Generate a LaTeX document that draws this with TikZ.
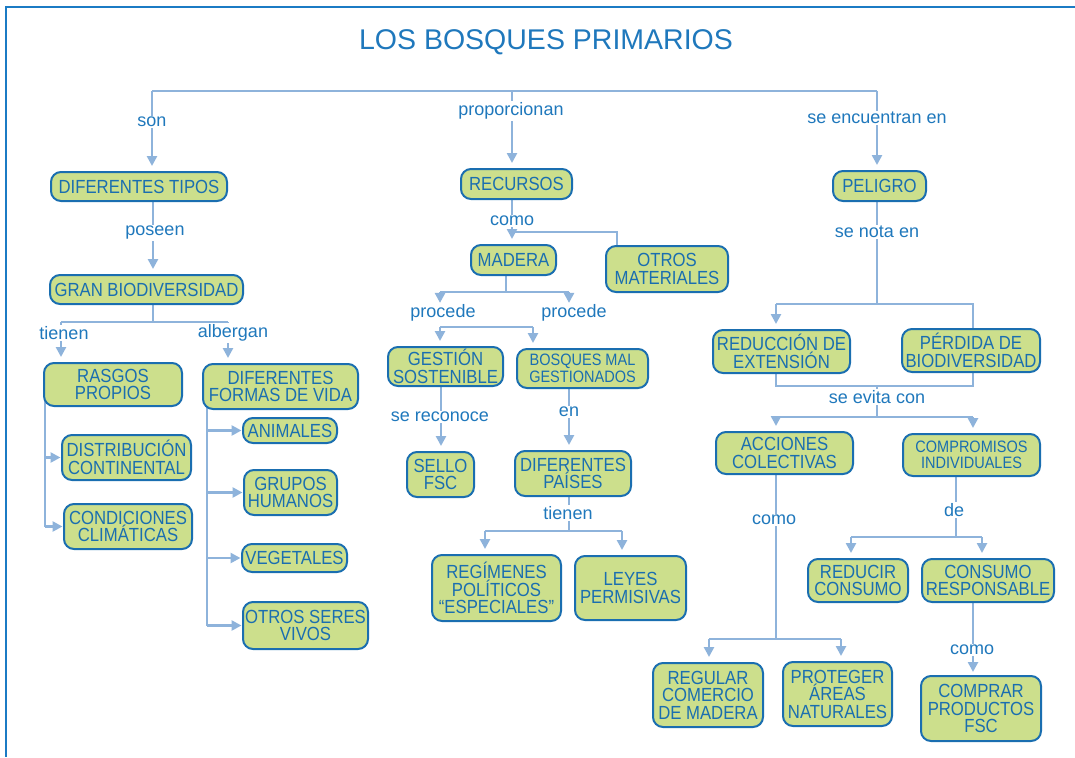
\documentclass[tikz,border=0pt]{standalone}
\usepackage{fontspec}
\setmainfont{Liberation Sans}
\newfontfamily\nodefont{Liberation Sans}[FakeStretch=0.88]
\usetikzlibrary{arrows.meta}
\definecolor{dblue}{HTML}{1A6EB0}
\definecolor{tblue}{HTML}{1F78BC}
\definecolor{cgreen}{HTML}{CCDF8C}
\definecolor{cblue}{HTML}{8EB3DB}
\definecolor{fblue}{HTML}{1B7BC4}
\pgfdeclarelayer{bg}
\pgfsetlayers{bg,main}
\tikzset{
  concept/.style={draw=dblue, line width=2pt, fill=cgreen, rounded corners=10pt, text=dblue,
    align=center, inner sep=0pt, font=\nodefont\fontsize{19}{17.5}\selectfont},
  smalltext/.style={font=\nodefont\fontsize{16.5}{16.5}\selectfont},
  lbl/.style={fill=white, text=tblue, inner sep=1.5pt, font=\fontsize{18}{20}\selectfont},
  conn/.style={draw=cblue, line width=2.6pt},
  arr/.style={conn, -{Triangle[length=10pt,width=10pt]}, shorten >=5pt},
  harr/.style={conn, -{Triangle[length=10pt,width=10pt]}, shorten >=0.5pt},
  frameline/.style={draw=fblue, line width=2pt},
}
\begin{document}
\begin{tikzpicture}[x=1pt, y=-1pt]
\useasboundingbox (0,0) rectangle (1075,757);
\draw[frameline] (1075,7) -- (6,7) -- (6,757);
\node[text=tblue, font=\fontsize{28.5}{30}\selectfont] (title) at (546,42) {LOS BOSQUES PRIMARIOS};

% concept nodes
\node[concept, minimum width=176pt, minimum height=29pt] (dtipos) at (139,186.5) {DIFERENTES TIPOS};
\node[concept, minimum width=193pt, minimum height=29pt] (granbio) at (146.5,289.5) {GRAN BIODIVERSIDAD};
\node[concept, minimum width=138pt, minimum height=43pt] (rasgos) at (113,384.5) {RASGOS\\PROPIOS};
\node[concept, minimum width=155pt, minimum height=45pt] (formas) at (280.5,386.5) {DIFERENTES\\FORMAS DE VIDA};
\node[concept, minimum width=129pt, minimum height=45pt] (distrib) at (126.5,457.5) {DISTRIBUCIÓN\\CONTINENTAL};
\node[concept, minimum width=128pt, minimum height=45pt] (condic) at (128,526.5) {CONDICIONES\\CLIMÁTICAS};
\node[concept, minimum width=94pt, minimum height=25pt] (animales) at (290,430.5) {ANIMALES};
\node[concept, minimum width=93pt, minimum height=45pt] (grupos) at (290.5,492.5) {GRUPOS\\HUMANOS};
\node[concept, minimum width=105pt, minimum height=28pt] (vegetales) at (294.5,558) {VEGETALES};
\node[concept, minimum width=125pt, minimum height=47pt] (otrosseres) at (305.5,625.5) {OTROS SERES\\VIVOS};

\node[concept, minimum width=111pt, minimum height=30pt] (recursos) at (516.5,184) {RECURSOS};
\node[concept, minimum width=85pt, minimum height=30pt] (madera) at (513.5,260) {MADERA};
\node[concept, minimum width=122pt, minimum height=46pt] (otrosmat) at (667,269) {OTROS\\MATERIALES};
\node[concept, minimum width=115pt, minimum height=39pt] (gestion) at (445.5,366.5) {GESTIÓN\\SOSTENIBLE};
\node[concept, smalltext, minimum width=131pt, minimum height=39pt] (bosques) at (582.5,368.5) {BOSQUES MAL\\GESTIONADOS};
\node[concept, minimum width=67pt, minimum height=45pt] (sello) at (440.5,474.5) {SELLO\\FSC};
\node[concept, minimum width=116pt, minimum height=45pt] (paises) at (573,473.5) {DIFERENTES\\PAÍSES};
\node[concept, minimum width=129pt, minimum height=66pt] (regimenes) at (496.5,588) {REGÍMENES\\POLÍTICOS\\“ESPECIALES”};
\node[concept, minimum width=111pt, minimum height=64pt] (leyes) at (630.5,588) {LEYES\\PERMISIVAS};

\node[concept, minimum width=93pt, minimum height=30pt] (peligro) at (879.5,186) {PELIGRO};
\node[concept, minimum width=137pt, minimum height=43pt] (reduccion) at (781.5,351.5) {REDUCCIÓN DE\\EXTENSIÓN};
\node[concept, minimum width=138pt, minimum height=43pt] (perdida) at (971,350.5) {PÉRDIDA DE\\BIODIVERSIDAD};
\node[concept, minimum width=137pt, minimum height=42pt] (acciones) at (784.5,453) {ACCIONES\\COLECTIVAS};
\node[concept, smalltext, minimum width=137pt, minimum height=42pt] (compromisos) at (971.5,455) {COMPROMISOS\\INDIVIDUALES};
\node[concept, minimum width=110pt, minimum height=64pt] (regular) at (708,695) {REGULAR\\COMERCIO\\DE MADERA};
\node[concept, minimum width=109pt, minimum height=64pt] (proteger) at (837.5,694) {PROTEGER\\ÁREAS\\NATURALES};
\node[concept, minimum width=100pt, minimum height=43pt] (reducir) at (858,580.5) {REDUCIR\\CONSUMO};
\node[concept, minimum width=132pt, minimum height=43pt] (consumo) at (988,580.5) {CONSUMO\\RESPONSABLE};
\node[concept, minimum width=120pt, minimum height=65pt] (comprar) at (981,708.5) {COMPRAR\\PRODUCTOS\\FSC};

% connector labels
\node[lbl] (lson) at (152,122) {son};
\node[lbl] (lprop) at (511,111) {proporcionan};
\node[lbl] (lenc) at (877,118) {se encuentran en};
\node[lbl] (lposeen) at (155,233) {poseen};
\node[lbl] (ltienen) at (64,333) {tienen};
\node[lbl] (lalbergan) at (233,333) {albergan};
\node[lbl] (lcomo1) at (512,221) {como};
\node[lbl] (lproc1) at (443,313) {procede};
\node[lbl] (lproc2) at (574,313) {procede};
\node[lbl] (lsereco) at (440,417) {se reconoce};
\node[lbl] (len) at (569,412) {en};
\node[lbl] (ltienen2) at (568,513) {tienen};
\node[lbl] (lnota) at (877,232) {se nota en};
\node[lbl] (levita) at (877,397) {se evita con};
\node[lbl] (lcomo2) at (774,520) {como};
\node[lbl] (lde) at (954,510) {de};
\node[lbl] (lcomo3) at (972,650) {como};

% junction coordinates
\coordinate (t1) at (152,91);
\coordinate (t2) at (512,91);
\coordinate (t3) at (877,91);
\coordinate (g0) at (153,322);
\coordinate (g1) at (61,322);
\coordinate (g2) at (228,322);
\coordinate (rtr) at (45,0);
\coordinate (ftr) at (207,0);
\coordinate (m1) at (512,232);
\coordinate (m2) at (617,232);
\coordinate (m3) at (506,292);
\coordinate (m4) at (440,292);
\coordinate (m5) at (569,292);
\coordinate (m6) at (440,327);
\coordinate (m7) at (533,327);
\coordinate (gx) at (441,0);
\coordinate (bx) at (569,0);
\coordinate (p1) at (569,531);
\coordinate (p2) at (485,531);
\coordinate (p3) at (622,531);
\coordinate (r1) at (877,304);
\coordinate (r2) at (776,304);
\coordinate (r3) at (973,304);
\coordinate (r4) at (776,386);
\coordinate (r5) at (973,386);
\coordinate (r6) at (877,386);
\coordinate (r7) at (877,417);
\coordinate (r8) at (776,417);
\coordinate (r9) at (973,417);
\coordinate (a1) at (776,639);
\coordinate (a2) at (709,639);
\coordinate (a3) at (841,639);
\coordinate (c1) at (956,537);
\coordinate (c2) at (851,537);
\coordinate (c3) at (982,537);
\coordinate (cx) at (973,0);

\begin{pgfonlayer}{bg}
% top bar
\draw[conn] (t1) -- (t3);
\draw[arr] (t1) -- (dtipos.north -| t1);
\draw[arr] (t2) -- (recursos.north -| t2);
\draw[arr] (t3) -- (peligro.north -| t3);
% left column
\draw[arr] (dtipos.south -| g0) -- (granbio.north -| g0);
\draw[conn] (granbio.south -| g0) -- (g0);
\draw[conn] (g1) -- (g2);
\draw[arr] (g1) -- (rasgos.north -| g1);
\draw[arr] (g2) -- (formas.north -| g2);
\draw[conn] (rasgos.center -| rtr) -- (condic -| rtr);
\draw[harr] (distrib -| rtr) -- (distrib.west);
\draw[harr] (condic -| rtr) -- (condic.west);
\draw[conn] (formas.center -| ftr) -- (otrosseres -| ftr);
\draw[harr] (animales -| ftr) -- (animales.west);
\draw[harr] (grupos -| ftr) -- (grupos.west);
\draw[harr] (vegetales -| ftr) -- (vegetales.west);
\draw[harr] (otrosseres -| ftr) -- (otrosseres.west);
% middle column
\draw[conn] (recursos.south -| m1) -- (m1) -- (m2) -- (otrosmat.center -| m2);
\draw[arr] (m1) -- (madera.north -| m1);
\draw[conn] (madera.south -| m3) -- (m3);
\draw[conn] (m4) -- (m5);
\draw[arr, shorten >=0pt] (m4) -- (lproc1.north -| m4);
\draw[arr, shorten >=0pt] (m5) -- (lproc2.north -| m5);
\draw[conn] (m6) -- (m7);
\draw[arr] (m6) -- (gestion.north -| m6);
\draw[arr] (m7) -- (bosques.north -| m7);
\draw[arr] (gestion.south -| gx) -- (sello.north -| gx);
\draw[arr] (bosques.south -| bx) -- (paises.north -| bx);
\draw[conn] (paises.south -| p1) -- (p1);
\draw[conn] (p2) -- (p3);
\draw[arr] (p2) -- (regimenes.north -| p2);
\draw[arr] (p3) -- (leyes.north -| p3);
% right column
\draw[conn] (peligro.south -| r1) -- (r1);
\draw[conn] (r2) -- (r3) -- (perdida.center -| r3);
\draw[arr] (r2) -- (reduccion.north -| r2);
\draw[conn] (reduccion.center -| r4) -- (r4) -- (r5) -- (perdida.center -| r5);
\draw[conn] (r6) -- (r7);
\draw[conn] (r8) -- (r9);
\draw[arr] (r8) -- (acciones.north -| r8);
\draw[arr] (r9) -- (compromisos.north -| r9);
\draw[conn] (acciones.south -| a1) -- (a1);
\draw[conn] (a2) -- (a3);
\draw[arr] (a2) -- (regular.north -| a2);
\draw[arr] (a3) -- (proteger.north -| a3);
\draw[conn] (compromisos.south -| c1) -- (c1);
\draw[conn] (c2) -- (c3);
\draw[arr] (c2) -- (reducir.north -| c2);
\draw[arr] (c3) -- (consumo.north -| c3);
\draw[arr, shorten >=3pt] (consumo.south -| cx) -- (comprar.north -| cx);
\end{pgfonlayer}
\end{tikzpicture}
\end{document}
